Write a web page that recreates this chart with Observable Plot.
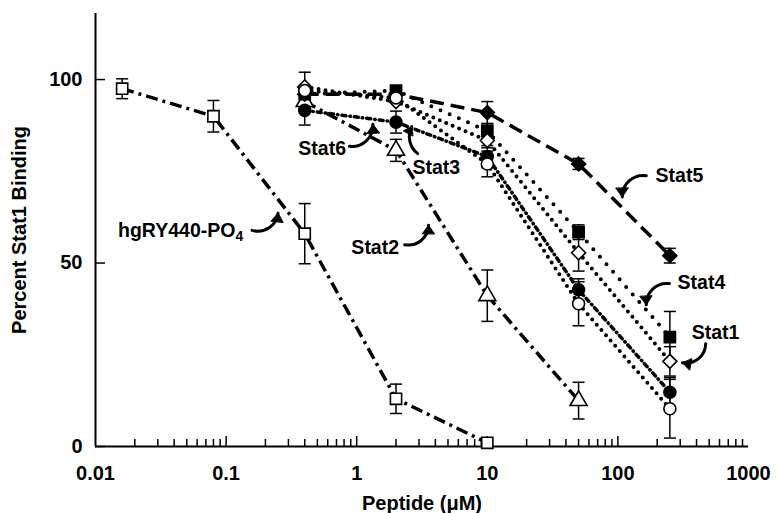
<!DOCTYPE html>
<html><head><meta charset="utf-8">
<script src="https://cdn.jsdelivr.net/npm/d3@7"></script>
<script src="https://cdn.jsdelivr.net/npm/@observablehq/plot@0.6"></script>
<style>body{margin:0;background:#fff}</style>
</head><body><div id="chart"></div>
<script>
// ---- data ----
const hgConc = [0.016, 0.08, 0.4, 2, 10];
const hgVal  = [97.5, 90, 58, 13, 1];
const hgErr  = [2.7, 4.3, 8.2, 4, 0];

const statConc = [0.4, 2, 10, 50, 250];
const stat5Val = [96, 96, 91, 77, 52];
const stat5Err = [0, 2, 3, 1.5, 2];
const stat4Val = [96, 97, 86, 58.4, 29.8];
const stat4Err = [0, 0, 2, 2, 7];
const stat1Val = [98, 94, 83.4, 52.8, 23.2];
const stat1Err = [4, 0, 2, 5, 4];
const stat3Val = [97, 95, 77, 38.9, 10.3];
const stat3Err = [0, 0, 3.5, 6, 8];
const stat6Val = [91.6, 88.4, 79, 42.7, 14.8];
const stat6Err = [4, 3, 3, 3, 4];

const stat2Conc = [0.4, 2, 10, 50];
const stat2Val  = [94, 80.7, 41.1, 12.5];
const stat2Err  = [0, 3, 7, 5];

const xTicks = [0.01, 0.1, 1, 10, 100, 1000];
const xMajorTickMarks = [0.1, 1, 10, 100];
const yTicks = [0, 50, 100];

// annotations: label text, label position, arrow start/end (data units)
const annLabel = ["hgRY440-PO4", "Stat2", "Stat6", "Stat3", "Stat5", "Stat4", "Stat1"];
const annX     = [0.01487, 1.386, 0.544, 4.066, 296, 436, 559];
const annY     = [58.9, 54.2, 81.2, 76.0, 73.8, 44.7, 31.1];
const annAnchor= ["start", "middle", "middle", "middle", "middle", "middle", "middle"];
const arrX1 = [0.158, 2.33, 0.88, 2.93, 165, 248, 470];
const arrY1 = [58.9, 55.0, 81.8, 79.8, 73.8, 44.4, 28.0];
const arrX2 = [0.25, 3.55, 1.33, 2.64, 108, 165, 312];
const arrY2 = [63.6, 60.3, 87.8, 87.2, 68.0, 38.6, 22.8];
const arrBend = [-50, -50, -50, 40, -50, -50, 50];

// ---- build rows ----
function rows(name, conc, val, err) {
  return conc.map((c, i) => ({name, conc: c, val: val[i], err: err[i]}));
}
const series = [
  {rows: rows("hg", hgConc, hgVal, hgErr), symbol: "square", fill: "white", dash: "12,5,3,5", cap: "butt", w: 3.5},
  {rows: rows("Stat2", stat2Conc, stat2Val, stat2Err), symbol: "triangle", fill: "white", dash: "12,5,3,5", cap: "butt", w: 3.5},
  {rows: rows("Stat5", statConc, stat5Val, stat5Err), symbol: "diamond2", fill: "black", dash: "14,7", cap: "butt", w: 3.5},
  {rows: rows("Stat4", statConc, stat4Val, stat4Err), symbol: "square", fill: "black", dash: "0,10", cap: "round", w: 4},
  {rows: rows("Stat1", statConc, stat1Val, stat1Err), symbol: "diamond2", fill: "white", dash: "0,7", cap: "round", w: 4},
  {rows: rows("Stat6", statConc, stat6Val, stat6Err), symbol: "circle", fill: "black", dash: "4,4,0.5,4", cap: "round", w: 3.5},
  {rows: rows("Stat3", statConc, stat3Val, stat3Err), symbol: "circle", fill: "white", dash: "0,7", cap: "round", w: 4}
];
const allRows = series.flatMap(s => s.rows);
const errRows = allRows.filter(d => d.err > 0);

const capSymbol = {draw(ctx, size) { const w = Math.sqrt(size / Math.PI); ctx.moveTo(-w, 0); ctx.lineTo(w, 0); }};

const minorTicks = [];
for (const d of [0.01, 0.1, 1, 10, 100]) for (let k = 2; k <= 9; k++) minorTicks.push(+(d * k).toPrecision(3));

const ann = annLabel.map((t, i) => ({t, x: annX[i], y: annY[i], a: annAnchor[i]}));
const arrows = arrX1.map((x, i) => ({x1: x, y1: arrY1[i], x2: arrX2[i], y2: arrY2[i], b: arrBend[i]}));

const marks = [
  Plot.axisX({ticks: minorTicks, tickSize: -7, tickFormat: () => "", label: null, strokeWidth: 1.5}),
  Plot.axisX({ticks: xMajorTickMarks, tickSize: -10, tickFormat: () => "", label: null, strokeWidth: 1.5}),
  Plot.axisX({ticks: xTicks, tickSize: 0, tickPadding: 19, tickFormat: d => String(d), fontSize: 20,
    label: "Peptide (\u03bcM)", labelAnchor: "center", labelOffset: 63, labelArrow: "none"}),
  Plot.axisY({ticks: yTicks, tickSize: -10, tickFormat: () => "", label: null, strokeWidth: 1.5}),
  Plot.axisY({ticks: yTicks, tickSize: 0, tickPadding: 13, fontSize: 20,
    label: "Percent Stat1 Binding", labelAnchor: "center", labelOffset: 84, labelArrow: "none"}),
  Plot.ruleY([0], {strokeWidth: 2}),
  Plot.ruleX([0.01], {strokeWidth: 2}),
  ...series.map(s => Plot.line(s.rows, {x: "conc", y: "val", stroke: "black", strokeWidth: s.w,
    strokeDasharray: s.dash, strokeLinecap: s.cap})),
  Plot.ruleX(errRows, {x: "conc", y1: d => d.val - d.err, y2: d => d.val + d.err, stroke: "black", strokeWidth: 1.5}),
  Plot.dot(errRows, {x: "conc", y: d => d.val + d.err, symbol: capSymbol, r: 6, stroke: "black", strokeWidth: 1.5, fill: "none"}),
  Plot.dot(errRows, {x: "conc", y: d => d.val - d.err, symbol: capSymbol, r: 6, stroke: "black", strokeWidth: 1.5, fill: "none"}),
  ...series.map(s => Plot.dot(s.rows, {x: "conc", y: "val", symbol: s.symbol, r: s.symbol === "circle" ? 6 : 6.3,
    fill: s.fill, stroke: "black", strokeWidth: 1.6})),
  Plot.text(ann.filter(d => d.a === "start"), {x: "x", y: "y", text: "t", textAnchor: "start", fill: "black", fontSize: 19.5}),
  Plot.text(ann.filter(d => d.a === "middle"), {x: "x", y: "y", text: "t", textAnchor: "middle", fill: "black", fontSize: 19.5}),
  ...arrows.map(a => Plot.arrow([a], {x1: "x1", y1: "y1", x2: "x2", y2: "y2", bend: a.b,
    stroke: "black", strokeWidth: 3, headLength: 11, headAngle: 70}))
];

const chart = Plot.plot({
  width: 777,
  height: 513,
  marginLeft: 95,
  marginRight: 29,
  marginTop: 13,
  marginBottom: 67,
  style: {fontFamily: "'Liberation Sans', Arial, sans-serif", fontSize: "20px", fontWeight: "bold", background: "white", color: "black"},
  x: {type: "log", domain: [0.01, 1000]},
  y: {domain: [0, 118]},
  marks
});

// subscript for PO4
d3.select(chart).selectAll("text").filter(function() { return this.textContent === "hgRY440-PO4"; })
  .each(function() {
    const t = d3.select(this);
    t.text("hgRY440-PO");
    t.append("tspan").attr("dy", "0.3em").attr("font-size", "14px").text("4");
  });

// solid arrow heads: turn the two head strokes into a filled triangle
d3.select(chart).selectAll("g[aria-label='arrow'] path").each(function() {
  const d = this.getAttribute("d");
  const i = d.indexOf("M", 1);
  if (i < 0) return;
  const nums = d.slice(i).match(/-?\d*\.?\d+(?:e-?\d+)?/g).map(Number);
  if (nums.length < 6) return;
  this.setAttribute("d", d.slice(0, i));
  d3.select(this.parentNode).append("path")
    .attr("d", `M${nums[0]},${nums[1]}L${nums[2]},${nums[3]}L${nums[4]},${nums[5]}Z`)
    .attr("fill", "black").attr("stroke", "black").attr("stroke-width", 1).attr("stroke-linejoin", "miter");
});

document.getElementById("chart").appendChild(chart);
</script>
</body></html>
